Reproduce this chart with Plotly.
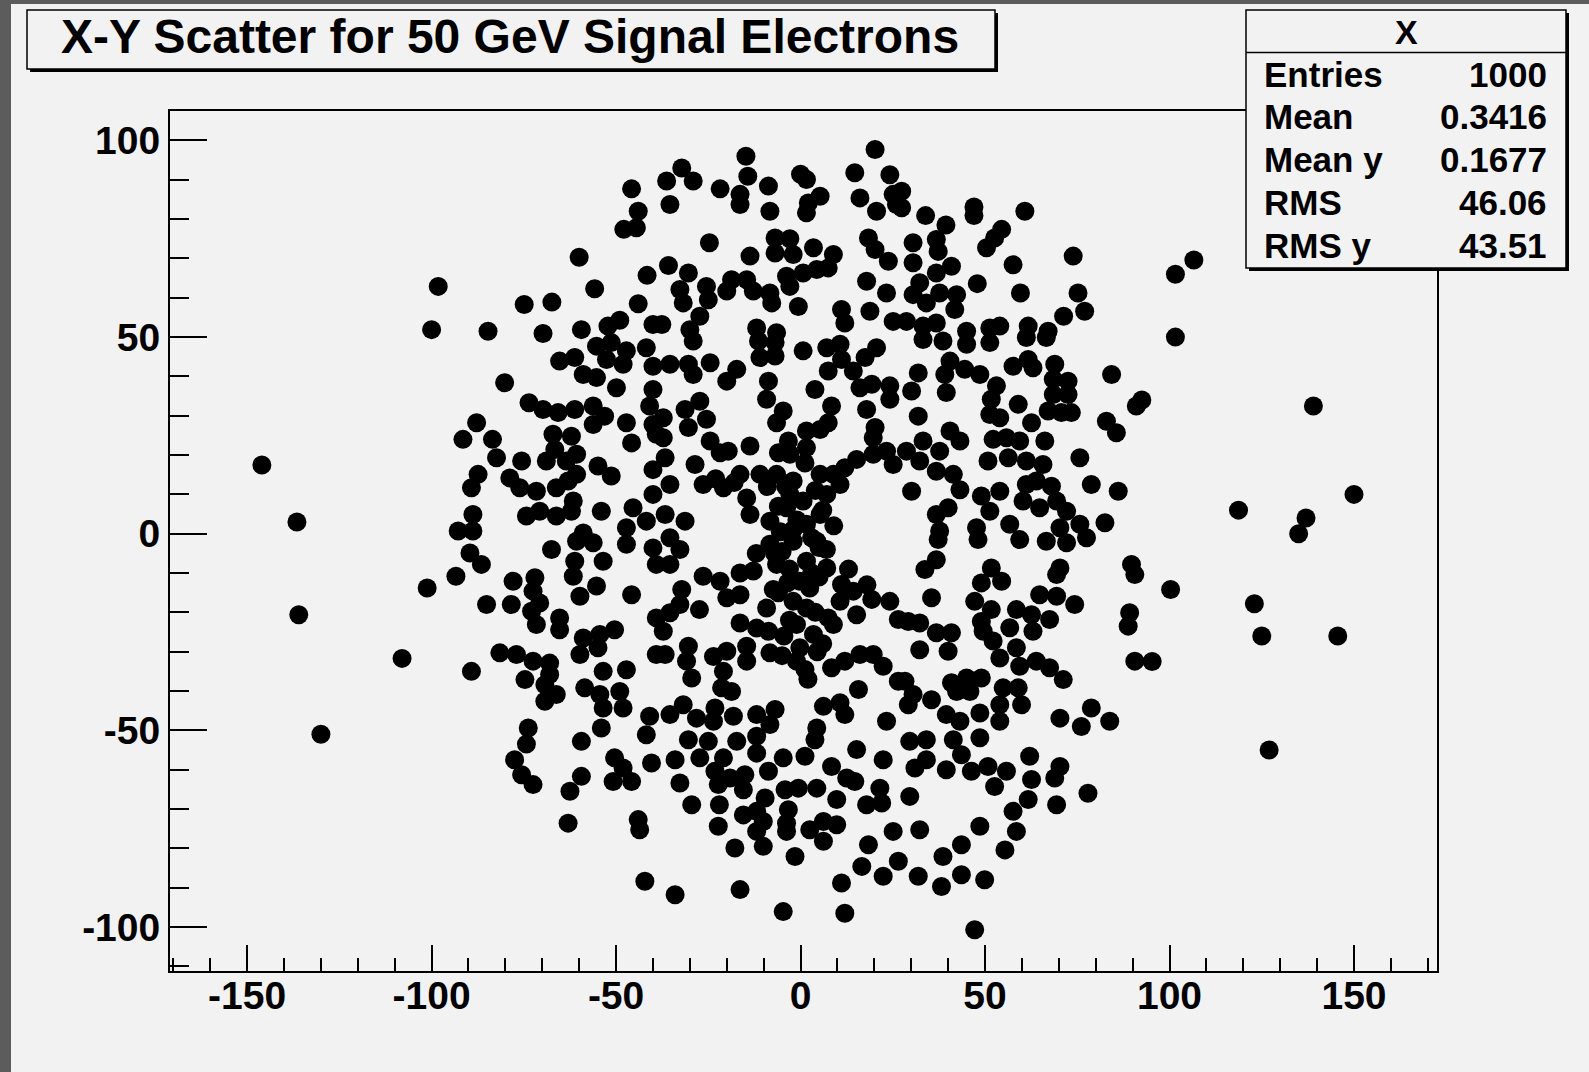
import plotly.graph_objects as go

# ---- data: electron impact positions (x, y) ----
pts_x = [
    # upper left
    -45.8, -44.0, -47.9, -44.5, -60.0, -41.6, -98.2, -55.8, -44.0, -74.9, -67.4, -49.0, -52.2, -40.0, -100.0, -84.7, -59.4, -69.8,
    # upper centre
    20.2, -14.8, -32.2, -36.3, -29.1, -14.3, -21.8, -8.7, 0.0, 1.6, 14.7, 24.2, 16.1, 25.1, 26.0, 20.6, -35.4, -16.4, -16.4, -8.3,
    5.3, 2.1, 1.6, -24.7, -6.9, -2.9, -6.9, -2.0, -13.7, 3.5, 8.9, 7.5, 18.4, 20.2, 23.8, -35.8, -30.4, -32.7, -31.8, -25.5,
    -25.0, -27.3, -30.0, -18.7, -20.0, -14.6, -12.8, -8.3, -7.8, -3.8, -2.9, 0.7, 4.4, -0.6, 17.9, 23.3, 18.8, 11.1, 12.0, -11.9,
    25.1, -37.6, -6.5,
    # upper right
    27.4, 27.4, 33.9, 47.0, 47.0, 60.8, 39.4, 54.5, 52.6, 50.4, 30.5, 30.5, 36.8, 37.3, 40.9, 36.8, 57.6, 73.9, 47.9, 32.3,
    30.5, 34.1, 37.7, 42.3, 41.8, 59.6, 75.2, 77.0, 71.3, 28.7, 33.2, 36.8, 45.0, 51.3, 54.0, 61.7, 67.1,
    # middle left (above 0)
    -55.3, -51.3, -47.2, -52.6, -48.1, -41.8, -40.0, -65.3, -61.2, -58.9, -55.3, -49.9, -80.2, -40.0, -40.9, -40.0, -39.1, -73.6,
    -69.8, -65.7, -61.2, -56.2, -53.1, -56.2, -47.2, -45.8, -87.8, -91.5, -83.5, -82.4, -67.1, -62.1, -66.6, -68.9, -60.7, -63.5,
    -75.6, -54.9, -51.3, -87.4, -89.2, -78.8, -76.1, -71.6, -60.7, -66.2, -63.0, -40.0, -74.3, -70.7, -66.2, -62.1, -61.6, -88.8,
    -54.0, -45.4, -47.2, -41.8, -92.8, -88.8, -58.9, -40.0,
    # middle centre (above 0)
    -29.1, -11.4, -6.9, -11.0, -6.9, -8.7, -9.2, -35.4, -30.4, -29.1, -24.5, -17.3, -20.0, 0.7, 7.1, 10.7, 11.1, 7.5, 14.3, 20.6,
    17.5, 16.1, 19.3, 24.2, 24.2, 3.9, 8.4, 7.5, 5.3, 17.9, 20.2, -27.3, -31.3, -25.5, -30.4, -4.7, -6.5, 1.6, 1.6, 1.2,
    -3.3, -6.0, -2.9, -24.5, -19.6, -21.8, -13.7, -28.6, -37.2, -37.2, -36.7, -35.4, -36.7, -31.3, -26.4, -20.9, -16.4, -11.0, -14.6, -13.7,
    -6.5, -2.0, -2.9, -8.3, -3.8, 0.7, 1.6, 5.3, 7.1, 8.9, 12.0, 15.2, 19.7, 23.3, 25.1, 5.3, 10.7, 19.7,
    # middle right (above 0)
    66.6, 33.2, 38.6, 45.0, 51.3, 61.2, 40.5, 39.1, 39.5, 44.5, 48.6, 53.1, 51.7, 51.3, 54.0, 31.9, 30.1, 57.6, 61.7, 63.0,
    68.9, 68.5, 72.5, 68.5, 72.5, 84.3, 59.0, 67.1, 70.7, 73.4, 62.6, 31.9, 91.0, 92.5, 82.9, 85.6, 40.5, 33.2, 43.2, 52.2,
    55.8, 59.4, 66.2, 28.7, 37.7, 36.8, 41.4, 32.3, 50.8, 56.3, 61.2, 65.7, 75.7, 30.1, 43.2, 49.0, 54.0, 51.3, 61.2, 63.9,
    68.0, 60.3, 64.8, 69.4, 78.8, 86.1, 36.8, 40.0, 47.7, 56.7, 37.7, 72.1, 75.7, 70.3, 82.5,
    # lower left (below 0)
    -89.6, -86.5, -93.4, -101.2, -85.1, -67.5, -60.7, -56.2, -61.2, -61.6, -53.5, -59.8, -55.3, -47.2, -40.0, -39.1, -45.8, -77.9,
    -72.0, -72.5, -78.4, -70.7, -72.9, -71.6, -65.3, -65.3, -58.9, -54.4, -50.4, -59.8, -54.9, -53.5, -47.2, -81.5, -77.0, -72.5,
    -68.0, -68.0, -89.2, -74.7, -69.3, -66.2, -69.3, -58.5, -54.4, -53.5, -49.0, -48.1, -40.9, -39.1, -39.1, -73.8, -54.0,
    # lower centre (below 0)
    -35.4, -32.7, -35.4, -8.3, -2.0, 4.4, -6.5, 1.6, 7.1, -0.2, 2.5, -2.0, 1.6, -1.1, 3.5, -0.2, -1.1, 1.2, -7.4, -9.2,
    -26.4, -21.8, -20.0, -16.4, -16.4, -12.8, -32.2, -32.7, -35.4, -37.2, -27.4, -16.4, -11.9, -8.7, 11.1, 14.3, 10.7, 15.2, 7.5, 8.9,
    19.3, 24.2, 26.5, -30.4, -36.7, -30.9, -29.5, -23.6, -20.0, -14.6, -14.6, -20.9, -21.4, -18.7, -8.3, 8.4, 12.0, 16.1, 19.7, 22.4,
    15.7, 6.2, 10.7, 12.0, -31.8, -28.2, -35.4, -23.2, -23.6, -18.2, -11.9, -6.9, -8.3, 4.4, 23.3, 26.5,
    -5.0, 3.0, -4.5, 4.5, -3.5, 5.0, -1.0, -5.5,
    # lower right (below 0)
    37.3, 48.1, 59.4, 66.6, 72.1, 77.5, 36.8, 33.7, 51.7, 49.0, 54.5, 70.3, 69.4, 89.7, 90.6, 35.5, 47.2, 64.8, 69.4, 74.3,
    51.7, 49.0, 49.5, 58.5, 62.6, 56.7, 63.0, 67.5, 89.2, 88.8, 29.2, 32.3, 36.8, 40.9, 40.0, 32.3, 52.2, 54.0, 58.5, 59.4,
    63.9, 67.5, 71.2, 90.6, 28.3, 40.9, 45.0, 49.0, 45.9, 42.3, 54.9, 59.0, 54.0, 59.9, 54.0, 30.5, 29.2, 35.5, 39.5, 43.2,
    48.6, 78.8, 70.3, 76.1, 83.8,
    # bottom left
    -74.3, -59.4, -41.8, -77.5, -75.6, -72.5, -59.4, -62.5, -50.4, -48.1, -50.8, -45.8, -40.4, -63.0, -44.0, -43.6, -42.2,
    # bottom centre
    -30.4, -25.0, -17.3, -11.9, -34.0, -27.3, -20.9, -11.9, -23.2, -19.1, -15.1, -22.3, -15.5, -32.7, -8.7, -4.7, 1.2, 3.9, 8.4, 12.5,
    14.7, 15.2, 22.4, 21.5, 17.9, 22.0, -4.2, -0.6, 4.4, 9.8, -29.5, -22.0, -9.6, -11.9, -15.5, -10.1, -11.9, -3.3, -3.8, -3.8,
    2.5, 6.2, 9.8, 6.2, -22.3, -17.8, -10.1, -1.5, 18.4, 16.6, 25.1, 11.1, -34.0, -16.4, -4.7, 12.0, 26.5, 22.4,
    # bottom right
    29.6, 34.1, 41.4, 48.6, 34.1, 31.0, 39.5, 43.6, 46.3, 50.8, 55.8, 52.6, 62.1, 62.6, 68.9, 70.3, 77.9, 29.6, 61.7, 57.6,
    69.4, 48.6, 58.5, 32.3, 43.6, 38.6, 55.4, 31.9, 38.2, 43.6, 49.9, 47.2,
    # far halo
    -146.0, -136.5, -136.0, -130.0, -108.0, 101.6, 106.6, 101.6, 139.0, 118.7, 135.0, 137.0, 150.0, 123.0, 125.0, 145.6, 127.0,
    95.3, 100.3,
]

pts_y = [
    # upper left
    87.7, 82.0, 77.4, 77.8, 70.3, 65.7, 62.9, 62.3, 58.5, 58.3, 58.9, 54.3, 52.8, 53.2, 51.9, 51.5, 51.9, 50.9,
    # upper centre
    97.7, 96.0, 93.0, 89.7, 89.7, 90.9, 87.7, 88.4, 91.4, 90.1, 91.8, 91.3, 85.4, 86.3, 83.7, 82.0, 83.7, 86.3, 83.7, 82.0,
    85.8, 84.1, 81.6, 74.0, 75.2, 75.0, 71.4, 71.0, 70.6, 72.7, 71.0, 67.6, 75.2, 72.3, 69.3, 68.2, 66.3, 62.1, 58.7, 62.9,
    59.5, 55.3, 51.9, 64.6, 61.7, 64.6, 61.7, 61.2, 58.7, 65.5, 62.9, 66.3, 67.2, 57.8, 64.2, 61.2, 56.6, 57.0, 53.6, 52.3,
    54.0, 53.2, 51.1,
    # upper right
    87.1, 82.9, 80.9, 83.1, 80.9, 82.0, 78.5, 77.4, 75.2, 72.7, 74.0, 68.9, 74.8, 71.8, 68.0, 66.3, 68.4, 70.6, 63.6, 63.8,
    60.8, 58.7, 61.2, 60.8, 57.0, 61.2, 61.2, 56.6, 55.3, 54.0, 52.8, 53.6, 51.5, 52.3, 52.8, 52.8, 51.5,
    # middle left (above 0)
    47.7, 48.6, 46.5, 44.3, 43.1, 47.3, 42.6, 43.9, 44.8, 40.5, 39.7, 37.1, 38.4, 36.7, 32.5, 27.8, 25.3, 33.3,
    31.6, 30.8, 31.6, 32.5, 29.9, 27.8, 28.2, 23.1, 28.2, 24.0, 24.0, 19.3, 25.3, 24.8, 21.4, 18.5, 20.2, 18.5,
    18.5, 17.2, 14.7, 15.1, 11.7, 14.2, 11.7, 10.8, 15.1, 11.7, 13.4, 16.3, 4.5, 5.7, 4.5, 5.7, 8.3, 4.9,
    5.7, 6.6, 1.5, 3.2, 0.7, 0.7, 0.2, 10.0,
    # middle centre (above 0)
    49.0, 49.0, 48.6, 44.8, 45.2, 38.8, 34.2, 43.1, 43.1, 40.5, 43.5, 41.8, 38.8, 46.5, 47.3, 48.2, 44.3, 41.4, 41.4, 47.3,
    44.8, 37.1, 38.0, 37.6, 34.2, 36.7, 32.5, 28.2, 26.5, 31.6, 27.0, 33.7, 31.6, 29.1, 27.0, 31.2, 28.2, 26.1, 21.9, 18.0,
    23.6, 20.6, 20.2, 23.6, 21.0, 20.6, 22.3, 17.6, 29.5, 24.4, 19.3, 12.5, 4.9, 3.2, 12.5, 11.7, 15.1, 15.1, 9.1, 4.9,
    15.1, 13.4, 10.0, 3.2, 6.6, 8.3, 2.4, 4.9, 10.0, 15.1, 16.8, 18.9, 20.2, 21.0, 17.6, 15.1, 12.5, 24.4,
    # middle right (above 0)
    49.9, 49.4, 49.0, 48.2, 48.6, 49.9, 43.9, 40.5, 35.9, 41.8, 40.5, 37.6, 34.2, 30.3, 29.5, 40.9, 36.3, 42.6, 44.3, 42.2,
    43.1, 39.3, 38.8, 35.4, 35.4, 40.5, 32.9, 31.2, 30.8, 30.8, 28.2, 29.9, 32.5, 34.0, 28.6, 25.7, 26.1, 23.6, 23.6, 24.0,
    24.4, 23.6, 23.6, 21.0, 21.0, 15.9, 15.1, 18.5, 18.5, 19.3, 18.5, 17.6, 19.3, 10.8, 11.2, 9.6, 10.8, 5.7, 12.5, 13.4,
    12.1, 8.3, 6.6, 8.3, 12.5, 10.8, 4.9, 6.6, 1.5, 2.4, 0.7, 5.7, 2.4, 1.5, 2.8,
    # lower left (below 0)
    -4.9, -7.8, -10.8, -13.8, -18.0, -4.0, -1.9, -2.3, -7.0, -10.8, -7.0, -15.9, -13.3, -2.7, -3.6, -7.8, -15.5, -12.1,
    -11.2, -14.6, -18.0, -17.6, -19.7, -23.1, -21.4, -24.4, -26.5, -25.6, -24.4, -30.7, -29.0, -35.0, -34.6, -30.3, -30.7, -32.4,
    -32.9, -35.8, -35.0, -37.1, -38.4, -40.9, -42.6, -39.2, -40.9, -44.3, -40.1, -44.3, -46.4, -30.7, -21.4, -49.4, -49.4,
    # lower centre (below 0)
    -1.0, -4.0, -7.8, -2.7, -1.9, -1.9, -7.8, -7.0, -8.7, -12.1, -13.8, -17.2, -18.9, -23.1, -25.6, -29.0, -32.4, -34.5, -14.2, -18.9,
    -10.8, -12.1, -16.3, -15.5, -10.0, -9.5, -14.2, -18.0, -20.1, -24.8, -19.3, -22.7, -24.0, -24.8, -12.9, -14.6, -17.2, -20.6, -21.4, -23.1,
    -16.7, -17.2, -21.8, -28.6, -30.7, -32.4, -36.7, -31.2, -29.9, -28.6, -32.4, -35.0, -39.2, -40.1, -30.3, -34.1, -32.4, -30.7, -30.7, -33.7,
    -39.6, -43.9, -43.0, -46.0, -43.5, -46.9, -46.0, -44.3, -47.7, -46.4, -46.0, -44.7, -48.5, -49.4, -47.7, -37.5,
    -4.5, -10.0, -26.0, -30.0, -12.5, -3.5, 3.5, 0.5,
    # lower right (below 0)
    -1.5, -1.5, -1.5, -1.9, -2.3, -1.0, -6.6, -9.1, -8.7, -12.5, -12.1, -8.7, -10.4, -7.8, -10.4, -16.3, -17.2, -15.5, -15.9, -18.0,
    -19.3, -22.3, -24.8, -19.3, -20.6, -23.9, -24.8, -21.8, -20.1, -23.5, -22.3, -22.7, -25.2, -25.2, -29.9, -29.5, -27.3, -31.6, -29.0, -33.7,
    -32.4, -34.1, -37.1, -32.4, -37.5, -37.9, -36.7, -36.7, -40.1, -40.1, -39.2, -39.2, -43.5, -43.5, -47.7, -40.9, -43.5, -42.2, -46.0, -47.7,
    -45.6, -44.3, -46.9, -49.0, -47.7,
    # bottom left
    -53.5, -52.8, -51.1, -57.5, -61.3, -63.8, -61.7, -65.5, -57.0, -59.6, -63.0, -63.0, -58.3, -73.6, -72.7, -75.3, -88.4,
    # bottom centre
    -52.4, -52.8, -52.8, -51.5, -57.5, -57.0, -57.0, -55.8, -60.4, -62.1, -61.3, -63.8, -65.1, -63.4, -60.4, -57.0, -56.6, -52.4, -59.2, -62.1,
    -63.0, -54.9, -57.5, -64.7, -68.9, -68.5, -65.1, -64.7, -64.7, -67.6, -68.9, -68.9, -67.2, -70.6, -71.5, -73.2, -75.7, -70.2, -73.6, -75.7,
    -75.3, -73.2, -74.0, -78.2, -74.4, -79.9, -79.5, -82.1, -79.1, -84.6, -75.7, -88.8, -91.8, -90.5, -96.1, -96.5, -83.3, -87.1,
    # bottom right
    -52.8, -52.4, -52.4, -51.9, -57.5, -59.6, -60.0, -56.2, -60.4, -59.2, -60.4, -64.3, -56.6, -62.5, -62.1, -59.2, -66.0, -66.8, -67.6, -70.6,
    -68.9, -74.4, -75.7, -75.3, -79.1, -82.1, -80.4, -87.1, -89.7, -86.7, -88.0, -100.7,
    # far halo
    17.5, 3.0, -20.6, -51.0, -31.7, 66.0, 69.6, 50.0, 32.5, 6.0, 0.0, 4.0, 10.0, -17.8, -26.0, -26.0, -55.0,
    -32.5, -14.2,
]

# densely populated core column and its arms
core_x = [-4.0, 4.0, -6.0, 6.0, -2.0, 3.0, -7.0, 7.0, -3.0, 5.0, -6.0, 4.0, -3.0, 6.0, -5.0, 2.0,
          -18.0, -9.0, -23.0, 13.0, 18.0, -12.0, 9.0]
core_y = [12.0, 11.0, 7.0, 6.0, 1.0, -1.0, -5.0, -4.0, -9.0, -11.0, -15.0, -20.0, -22.0, -28.0, -31.0, -37.0,
          13.0, 12.0, 14.0, -9.0, -13.0, -5.0, 2.0]

title_text = "X-Y Scatter for 50 GeV Signal Electrons"
stats_header = "X"
stats_names = ["Entries", "Mean", "Mean y", "RMS", "RMS y"]
stats_values = ["1000", "0.3416", "0.1677", "46.06", "43.51"]

x_tick_vals = [-150, -100, -50, 0, 50, 100, 150]
x_tick_text = ["-150", "-100", "-50", "0", "50", "100", "150"]
y_tick_vals = [-100, -50, 0, 50, 100]
y_tick_text = ["-100", "-50", "0", "50", "100"]

# ---- canvas geometry (pixels) ----
W, H = 1589, 1072
ML, MR, MT, MB = 170, 152, 111, 101
PW, PH = W - ML - MR, H - MT - MB
BG = "#f2f2f2"
FONT = "Liberation Sans, Arial, Helvetica, sans-serif"


def fx(px):
    return (px - ML) / PW


def fy(py):
    return (H - MB - py) / PH


fig = go.Figure()
fig.add_trace(go.Scatter(
    x=pts_x + core_x, y=pts_y + core_y, mode="markers",
    marker=dict(color="black", size=19, symbol="circle", line=dict(width=0)),
    showlegend=False, hoverinfo="skip",
))

shapes = []


def box(x0, y0, x1, y1, shadow=3):
    shapes.append(dict(type="rect", xref="paper", yref="paper", layer="above",
                       x0=fx(x0 + shadow), x1=fx(x1 + shadow), y0=fy(y0 + shadow), y1=fy(y1 + shadow),
                       fillcolor="black", line=dict(width=0)))
    shapes.append(dict(type="rect", xref="paper", yref="paper", layer="above",
                       x0=fx(x0), x1=fx(x1), y0=fy(y0), y1=fy(y1),
                       fillcolor=BG, line=dict(color="black", width=1.5)))


# window border strips
shapes.append(dict(type="rect", xref="paper", yref="paper", layer="below",
                   x0=fx(0), x1=fx(11), y0=fy(0), y1=fy(H), fillcolor="#5c5c5c", line=dict(width=0)))
shapes.append(dict(type="rect", xref="paper", yref="paper", layer="below",
                   x0=fx(0), x1=fx(W), y0=fy(0), y1=fy(4), fillcolor="#5c5c5c", line=dict(width=0)))

# title box
box(27, 10, 995, 69)
# statistics box
sx0, sy0, sx1, sy1 = 1246, 10, 1566, 268
box(sx0, sy0, sx1, sy1)
shapes.append(dict(type="line", xref="paper", yref="paper", layer="above",
                   x0=fx(sx0), x1=fx(sx1), y0=fy(52.5), y1=fy(52.5),
                   line=dict(color="black", width=1.5)))

annotations = [
    dict(text=title_text, xref="paper", yref="paper", x=fx(510), y=fy(36.5),
         xanchor="center", yanchor="middle", showarrow=False,
         font=dict(family=FONT, size=48, color="black", weight="bold")),
    dict(text=stats_header, xref="paper", yref="paper", x=fx((sx0 + sx1) / 2), y=fy(32),
         xanchor="center", yanchor="middle", showarrow=False,
         font=dict(family=FONT, size=34, color="black", weight="bold")),
]
row_y = [74, 116.5, 159, 202.5, 245]
for name, val, ry in zip(stats_names, stats_values, row_y):
    annotations.append(dict(text=name, xref="paper", yref="paper", x=fx(1262), y=fy(ry),
                            xanchor="left", yanchor="middle", showarrow=False,
                            font=dict(family=FONT, size=35, color="black", weight="bold")))
    annotations.append(dict(text=val, xref="paper", yref="paper", x=fx(1549), y=fy(ry),
                            xanchor="right", yanchor="middle", showarrow=False,
                            font=dict(family=FONT, size=35, color="black", weight="bold")))

tick_font = dict(family=FONT, size=39, color="black", weight="bold")

fig.update_layout(
    width=W, height=H,
    margin=dict(l=ML, r=MR, t=MT, b=MB, pad=0),
    paper_bgcolor=BG, plot_bgcolor=BG,
    shapes=shapes, annotations=annotations,
    showlegend=False,
    xaxis=dict(
        range=[-170.9, 172.5], showgrid=False, zeroline=False,
        showline=True, linecolor="black", linewidth=2, mirror=True,
        tickmode="array", tickvals=x_tick_vals, ticktext=x_tick_text,
        ticks="inside", ticklen=26, tickwidth=2, tickcolor="black",
        tickfont=tick_font, ticklabelstandoff=-11,
        minor=dict(tickmode="linear", tick0=0, dtick=10, ticks="inside",
                   ticklen=13, tickwidth=2, tickcolor="black", showgrid=False),
    ),
    yaxis=dict(
        range=[-111.2, 107.5], showgrid=False, zeroline=False,
        showline=True, linecolor="black", linewidth=2, mirror=True,
        tickmode="array", tickvals=y_tick_vals, ticktext=y_tick_text,
        ticks="inside", ticklen=37, tickwidth=2, tickcolor="black",
        tickfont=tick_font, ticklabelstandoff=0,
        minor=dict(tickmode="linear", tick0=0, dtick=10, ticks="inside",
                   ticklen=19, tickwidth=2, tickcolor="black", showgrid=False),
    ),
)

fig.write_html("out.html")
